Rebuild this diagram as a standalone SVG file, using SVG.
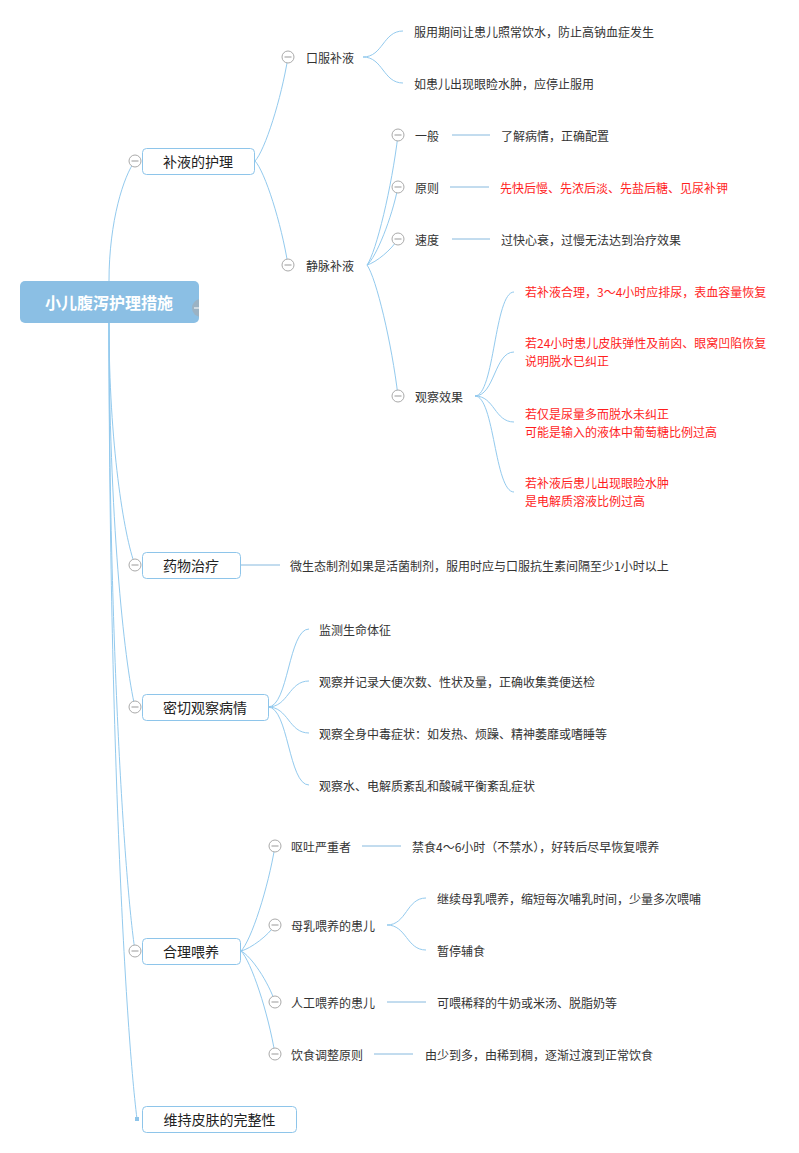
<svg xmlns="http://www.w3.org/2000/svg" width="799" height="1153" viewBox="0 0 799 1153">
<defs>
<style>
text{font-family:"Noto Sans CJK SC","Noto Sans",sans-serif;dominant-baseline:central;}
.t{font-size:12px;fill:#333;}
.r{font-size:12px;fill:#ff1e1e;}
.l1{font-size:14px;fill:#222;text-anchor:middle;}
.root{font-size:16px;font-weight:bold;fill:#fff;text-anchor:middle;}
.box{fill:#fff;stroke:#8ec5ea;stroke-width:1;}
.c{fill:none;stroke:#93caee;stroke-width:1;}
.h{fill:none;stroke:#86b9de;stroke-width:1;}
.col circle{fill:#fff;stroke:#aaa;stroke-width:1;}
.col line{stroke:#999;stroke-width:1;}
</style>
<clipPath id="rootclip"><rect x="20" y="281" width="179" height="42" rx="5"/></clipPath>
</defs>
<rect width="799" height="1153" fill="#fff"/>

<g id="connectors">
<path class="c" d="M109,281 C109,221 124,175 135,161"/>
<path class="c" d="M109,323 C109,444 124,536 135,565"/>
<path class="c" d="M109,323 C109,515 124,661 135,707"/>
<path class="c" d="M109,323 C109,637 124,876 135,951"/>
<path class="c" d="M109,323 C109,721 125,1023 137,1119"/>

<path class="c" d="M255,161 C264.9,150.6 281.4,98.6 288,57"/>
<path class="c" d="M255,161 C264.9,171.4 281.4,223.4 288,265"/>

<path class="c" d="M363,57 C383,57 383,31 403,31"/>
<path class="c" d="M363,57 C383,57 383,83 403,83"/>

<path class="c" d="M367,265 C376.3,252 391.8,187 398,135"/>
<path class="c" d="M367,265 C376.3,257.2 391.8,218.2 398,187"/>
<path class="c" d="M367,265 C376.3,262.4 391.8,249.4 398,239"/>
<path class="c" d="M367,265 C376.3,278.1 391.8,343.6 398,396"/>

<line class="h" x1="452" y1="135" x2="490" y2="135"/>
<line class="h" x1="450" y1="187" x2="489" y2="187"/>
<line class="h" x1="452" y1="239" x2="490" y2="239"/>

<path class="c" d="M475,396 C494.5,396 494.5,292 514,292"/>
<path class="c" d="M475,396 C494.5,396 494.5,352 514,352"/>
<path class="c" d="M475,396 C494.5,396 494.5,422 514,422"/>
<path class="c" d="M475,396 C494.5,396 494.5,492 514,492"/>

<line class="h" x1="241" y1="565" x2="280" y2="565"/>

<path class="c" d="M268,707 C288.5,707 288.5,629 309,629"/>
<path class="c" d="M268,707 C288.5,707 288.5,681 309,681"/>
<path class="c" d="M268,707 C288.5,707 288.5,733 309,733"/>
<path class="c" d="M268,707 C288.5,707 288.5,785 309,785"/>

<path class="c" d="M241,951 C251.2,940.5 268.2,888 275,846"/>
<path class="c" d="M241,951 C251.2,948.4 268.2,935.4 275,925"/>
<path class="c" d="M241,951 C251.2,956.1 268.2,981.6 275,1002"/>
<path class="c" d="M241,951 C251.2,961.3 268.2,1012.8 275,1054"/>

<line class="h" x1="362" y1="846" x2="401" y2="846"/>
<path class="c" d="M387,925 C406.5,925 406.5,898 426,898"/>
<path class="c" d="M387,925 C406.5,925 406.5,950 426,950"/>
<line class="h" x1="387" y1="1002" x2="426" y2="1002"/>
<line class="h" x1="374" y1="1054" x2="413" y2="1054"/>
</g>

<g id="root">
<rect x="20" y="281" width="179" height="42" rx="5" fill="#8bbfe4"/>
<g clip-path="url(#rootclip)">
<circle cx="201" cy="308" r="9" fill="#a3adb5" opacity="0.7"/>
<line x1="194" y1="308" x2="199" y2="308" stroke="#fff" stroke-width="1.2"/>
</g>
<text class="root" x="109" y="302">小儿腹泻护理措施</text>
</g>

<g id="n-buye">
<rect class="box" x="142.5" y="148.5" width="112" height="26" rx="4"/>
<text class="l1" x="198" y="161">补液的护理</text>
<g class="col"><circle cx="135" cy="161" r="6"/><line x1="131.5" y1="161" x2="138.5" y2="161"/></g>
</g>

<g id="n-koufu">
<g class="col"><circle cx="288" cy="57" r="6"/><line x1="284.5" y1="57" x2="291.5" y2="57"/></g>
<text class="t" x="306" y="57">口服补液</text>
</g>
<g id="n-koufu-1"><text class="t" x="414" y="31">服用期间让患儿照常饮水，防止高钠血症发生</text></g>
<g id="n-koufu-2"><text class="t" x="414" y="83">如患儿出现眼睑水肿，应停止服用</text></g>

<g id="n-jingmai">
<g class="col"><circle cx="288" cy="265" r="6"/><line x1="284.5" y1="265" x2="291.5" y2="265"/></g>
<text class="t" x="306" y="265">静脉补液</text>
</g>

<g id="n-yiban">
<g class="col"><circle cx="398" cy="135" r="6"/><line x1="394.5" y1="135" x2="401.5" y2="135"/></g>
<text class="t" x="415" y="135">一般</text>
</g>
<g id="n-yiban-1"><text class="t" x="501" y="135">了解病情，正确配置</text></g>

<g id="n-yuanze">
<g class="col"><circle cx="398" cy="187" r="6"/><line x1="394.5" y1="187" x2="401.5" y2="187"/></g>
<text class="t" x="415" y="187">原则</text>
</g>
<g id="n-yuanze-1"><text class="r" x="500" y="187">先快后慢、先浓后淡、先盐后糖、见尿补钾</text></g>

<g id="n-sudu">
<g class="col"><circle cx="398" cy="239" r="6"/><line x1="394.5" y1="239" x2="401.5" y2="239"/></g>
<text class="t" x="415" y="239">速度</text>
</g>
<g id="n-sudu-1"><text class="t" x="501" y="239">过快心衰，过慢无法达到治疗效果</text></g>

<g id="n-guancha">
<g class="col"><circle cx="398" cy="396" r="6"/><line x1="394.5" y1="396" x2="401.5" y2="396"/></g>
<text class="t" x="415" y="396">观察效果</text>
</g>
<g id="n-guancha-1"><text class="r" x="525" y="291">若补液合理，3～4小时应排尿，表血容量恢复</text></g>
<g id="n-guancha-2"><text class="r" x="525" y="342">若24小时患儿皮肤弹性及前囟、眼窝凹陷恢复</text><text class="r" x="525" y="360">说明脱水已纠正</text></g>
<g id="n-guancha-3"><text class="r" x="525" y="413">若仅是尿量多而脱水未纠正</text><text class="r" x="525" y="431">可能是输入的液体中葡萄糖比例过高</text></g>
<g id="n-guancha-4"><text class="r" x="525" y="482">若补液后患儿出现眼睑水肿</text><text class="r" x="525" y="500">是电解质溶液比例过高</text></g>

<g id="n-yaowu">
<rect class="box" x="142.5" y="552.5" width="98" height="26" rx="4"/>
<text class="l1" x="191" y="565">药物治疗</text>
<g class="col"><circle cx="135" cy="565" r="6"/><line x1="131.5" y1="565" x2="138.5" y2="565"/></g>
</g>
<g id="n-yaowu-1"><text class="t" x="290" y="565">微生态制剂如果是活菌制剂，服用时应与口服抗生素间隔至少1小时以上</text></g>

<g id="n-miqie">
<rect class="box" x="142.5" y="694.5" width="126" height="26" rx="4"/>
<text class="l1" x="205" y="707">密切观察病情</text>
<g class="col"><circle cx="135" cy="707" r="6"/><line x1="131.5" y1="707" x2="138.5" y2="707"/></g>
</g>
<g id="n-miqie-1"><text class="t" x="319" y="629">监测生命体征</text></g>
<g id="n-miqie-2"><text class="t" x="319" y="681">观察并记录大便次数、性状及量，正确收集粪便送检</text></g>
<g id="n-miqie-3"><text class="t" x="319" y="733">观察全身中毒症状：如发热、烦躁、精神萎靡或嗜睡等</text></g>
<g id="n-miqie-4"><text class="t" x="319" y="785">观察水、电解质紊乱和酸碱平衡紊乱症状</text></g>

<g id="n-weiyang">
<rect class="box" x="142.5" y="938.5" width="98" height="26" rx="4"/>
<text class="l1" x="191" y="951">合理喂养</text>
<g class="col"><circle cx="135" cy="951" r="6"/><line x1="131.5" y1="951" x2="138.5" y2="951"/></g>
</g>

<g id="n-outu">
<g class="col"><circle cx="275" cy="846" r="6"/><line x1="271.5" y1="846" x2="278.5" y2="846"/></g>
<text class="t" x="291" y="846">呕吐严重者</text>
</g>
<g id="n-outu-1"><text class="t" x="412" y="846">禁食4～6小时（不禁水），好转后尽早恢复喂养</text></g>

<g id="n-muru">
<g class="col"><circle cx="275" cy="925" r="6"/><line x1="271.5" y1="925" x2="278.5" y2="925"/></g>
<text class="t" x="291" y="925">母乳喂养的患儿</text>
</g>
<g id="n-muru-1"><text class="t" x="437" y="898">继续母乳喂养，缩短每次哺乳时间，少量多次喂哺</text></g>
<g id="n-muru-2"><text class="t" x="437" y="950">暂停辅食</text></g>

<g id="n-rengong">
<g class="col"><circle cx="275" cy="1002" r="6"/><line x1="271.5" y1="1002" x2="278.5" y2="1002"/></g>
<text class="t" x="291" y="1002">人工喂养的患儿</text>
</g>
<g id="n-rengong-1"><text class="t" x="437" y="1002">可喂稀释的牛奶或米汤、脱脂奶等</text></g>

<g id="n-yinshi">
<g class="col"><circle cx="275" cy="1054" r="6"/><line x1="271.5" y1="1054" x2="278.5" y2="1054"/></g>
<text class="t" x="291" y="1054">饮食调整原则</text>
</g>
<g id="n-yinshi-1"><text class="t" x="425" y="1054">由少到多，由稀到稠，逐渐过渡到正常饮食</text></g>

<g id="n-pifu">
<rect x="135" y="1117" width="4" height="4" fill="#8ec5ea"/>
<rect class="box" x="142.5" y="1106.5" width="154" height="26" rx="4"/>
<text class="l1" x="219.5" y="1119">维持皮肤的完整性</text>
</g>
</svg>
